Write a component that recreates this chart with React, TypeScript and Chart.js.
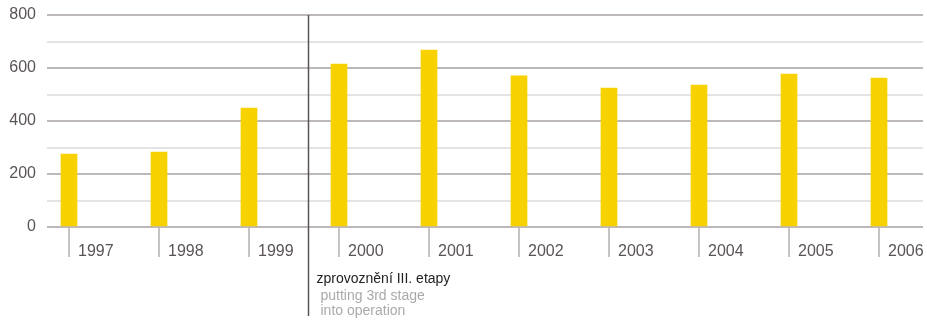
import React, { useEffect, useRef } from "react";
import { Chart, registerables } from "chart.js";

Chart.register(...registerables);

const years = [1997, 1998, 1999, 2000, 2001, 2002, 2003, 2004, 2005, 2006];
const values = [275, 283, 449, 615, 668, 570, 524, 536, 577, 562];
const yTickLabels = [0, 200, 400, 600, 800];
const markerYear = 1999.656;
const noteLines = ["zprovoznění III. etapy", "putting 3rd stage", "into operation"];

const FONT = "'Liberation Sans', Arial, Helvetica, sans-serif";

const markerPlugin = {
  id: "marker",
  afterDraw(chart: any) {
    const { ctx, scales, chartArea } = chart;
    const x = Math.round(scales.x.getPixelForValue(markerYear)) + 0.5;
    ctx.save();
    ctx.strokeStyle = "#5a5458";
    ctx.lineWidth = 1.5;
    ctx.beginPath();
    ctx.moveTo(x, chartArea.top);
    ctx.lineTo(x, chartArea.bottom + 89);
    ctx.stroke();
    ctx.textBaseline = "middle";
    ctx.textAlign = "left";
    ctx.font = `14px ${FONT}`;
    ctx.fillStyle = "#222";
    ctx.fillText(noteLines[0], x + 8, chartArea.bottom + 52);
    ctx.fillStyle = "#aaa";
    ctx.fillText(noteLines[1], x + 12, chartArea.bottom + 69);
    ctx.fillText(noteLines[2], x + 12, chartArea.bottom + 84);
    ctx.restore();
  },
};

export default function App() {
  const ref = useRef<HTMLCanvasElement>(null);
  useEffect(() => {
    if (!ref.current) return;
    const chart = new Chart(ref.current, {
      type: "bar",
      data: {
        datasets: [
          {
            data: years.map((y, i) => ({ x: y, y: values[i] })),
            backgroundColor: "#f7d100",
            barThickness: 16,
          },
        ],
      },
      options: {
        animation: false,
        responsive: false,
        maintainAspectRatio: false,
        layout: { padding: { left: 0, right: 4, top: 15, bottom: 0 } },
        plugins: { legend: { display: false }, tooltip: { enabled: false } },
        scales: {
          x: {
            type: "linear",
            min: 1996.7556,
            max: 2006.4889,
            offset: false,
            afterBuildTicks(scale: any) {
              scale.ticks = years.map((v) => ({ value: v }));
            },
            afterFit(scale: any) {
              scale.height = 93;
              scale.paddingLeft = 0;
              scale.paddingRight = 0;
            },
            border: { display: false },
            grid: {
              offset: false,
              drawOnChartArea: false,
              drawTicks: true,
              tickLength: 30,
              color: "#c4c2c4",
              lineWidth: 2,
            },
            ticks: {
              autoSkip: false,
              maxRotation: 0,
              minRotation: 0,
              align: "start",
              labelOffset: 9,
              padding: -15,
              color: "#5a5458",
              font: { family: FONT, size: 16 },
              callback: (v: any) => String(v),
            },
          },
          y: {
            min: 0,
            max: 800,
            afterFit(scale: any) {
              scale.width = 47;
              scale.paddingTop = 0;
              scale.paddingBottom = 0;
            },
            border: { display: false },
            grid: {
              drawTicks: false,
              lineWidth: 2,
              color: (c: any) =>
                yTickLabels.includes(c.tick?.value) ? "#bcb8bc" : "#e4e4e4",
            },
            ticks: {
              stepSize: 100,
              padding: 11,
              color: "#5a5458",
              font: { family: FONT, size: 16 },
              callback: (v: any) => (yTickLabels.includes(v) ? String(v) : ""),
            },
          },
        },
      },
      plugins: [markerPlugin],
    } as any);
    return () => chart.destroy();
  }, []);
  return (
    <div style={{ position: "fixed", left: 0, top: 0, width: 927, height: 320, background: "#fff" }}>
      <canvas ref={ref} width={927} height={320} style={{ width: 927, height: 320 }} />
    </div>
  );
}
